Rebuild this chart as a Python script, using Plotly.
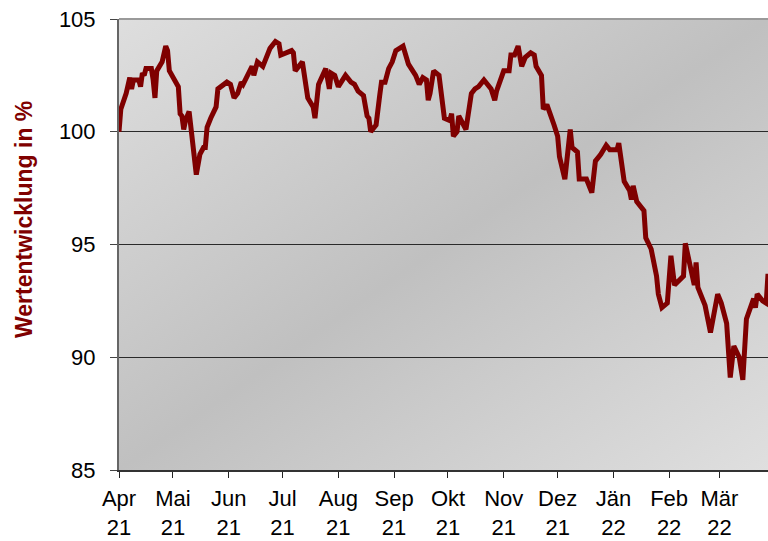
import base64
import plotly.graph_objects as go

# ---- data ----
dates = [
    "2021-04-01", "2021-04-02", "2021-04-05", "2021-04-07", "2021-04-08", "2021-04-09",
    "2021-04-12", "2021-04-13", "2021-04-14", "2021-04-15", "2021-04-16", "2021-04-19",
    "2021-04-20", "2021-04-21", "2021-04-22", "2021-04-25", "2021-04-27", "2021-04-28",
    "2021-04-29", "2021-05-02", "2021-05-04", "2021-05-05", "2021-05-06", "2021-05-07",
    "2021-05-08", "2021-05-10", "2021-05-11", "2021-05-12", "2021-05-14", "2021-05-16",
    "2021-05-18", "2021-05-19", "2021-05-20", "2021-05-22", "2021-05-25", "2021-05-26",
    "2021-05-29", "2021-05-31", "2021-06-02", "2021-06-04", "2021-06-06", "2021-06-08",
    "2021-06-09", "2021-06-11", "2021-06-14", "2021-06-15", "2021-06-17", "2021-06-20",
    "2021-06-22", "2021-06-24", "2021-06-27", "2021-06-29", "2021-06-30", "2021-07-06",
    "2021-07-07", "2021-07-08", "2021-07-10", "2021-07-12", "2021-07-15", "2021-07-18",
    "2021-07-19", "2021-07-21", "2021-07-25", "2021-07-27", "2021-07-28", "2021-07-30",
    "2021-08-01", "2021-08-05", "2021-08-08", "2021-08-10", "2021-08-12", "2021-08-15",
    "2021-08-17", "2021-08-18", "2021-08-19", "2021-08-22", "2021-08-24", "2021-08-25",
    "2021-08-27", "2021-08-29", "2021-08-31", "2021-09-02", "2021-09-06", "2021-09-09",
    "2021-09-13", "2021-09-15", "2021-09-17", "2021-09-19", "2021-09-20", "2021-09-21",
    "2021-09-23", "2021-09-26", "2021-09-29", "2021-10-02", "2021-10-03", "2021-10-04",
    "2021-10-06", "2021-10-07", "2021-10-11", "2021-10-14", "2021-10-16", "2021-10-18",
    "2021-10-21", "2021-10-25", "2021-10-27", "2021-10-28", "2021-11-01", "2021-11-04",
    "2021-11-05", "2021-11-07", "2021-11-09", "2021-11-11", "2021-11-13", "2021-11-16",
    "2021-11-18", "2021-11-19", "2021-11-22", "2021-11-23", "2021-11-25", "2021-11-28",
    "2021-11-29", "2021-12-01", "2021-12-02", "2021-12-05", "2021-12-08", "2021-12-09",
    "2021-12-12", "2021-12-13", "2021-12-16", "2021-12-17", "2021-12-20", "2021-12-22",
    "2021-12-25", "2021-12-28", "2021-12-30", "2022-01-03", "2022-01-04", "2022-01-07",
    "2022-01-10", "2022-01-11", "2022-01-12", "2022-01-14", "2022-01-18", "2022-01-19",
    "2022-01-22", "2022-01-25", "2022-01-26", "2022-01-28", "2022-01-31", "2022-02-02",
    "2022-02-04", "2022-02-09", "2022-02-10", "2022-02-15", "2022-02-16", "2022-02-17",
    "2022-02-21", "2022-02-24", "2022-02-28", "2022-03-02", "2022-03-05", "2022-03-07",
    "2022-03-09", "2022-03-12", "2022-03-14", "2022-03-16", "2022-03-20", "2022-03-21",
    "2022-03-22", "2022-03-25", "2022-03-27", "2022-03-28",
]
values = [
    100.0, 101.0, 101.7, 102.4, 101.9, 102.3,
    102.3, 102.0, 102.6, 102.5, 102.8, 102.8,
    102.3, 101.5, 102.7, 103.1, 103.8, 103.6,
    102.7, 102.3, 102.0, 100.8, 100.7, 100.1,
    100.5, 100.9, 100.1, 99.6, 98.1, 99.0,
    99.3, 99.3, 100.2, 100.6, 101.1, 101.9,
    102.1, 102.2, 102.1, 101.5, 101.7, 102.2,
    102.1, 102.4, 102.9, 102.5, 103.1, 102.9,
    103.3, 103.7, 104.0, 103.9, 103.4, 103.6,
    103.5, 102.7, 102.9, 103.1, 101.5, 101.1,
    100.6, 102.1, 102.8, 101.9, 102.6, 102.5,
    102.0, 102.5, 102.2, 102.1, 101.8, 101.6,
    100.7, 100.6, 100.0, 100.3, 101.6, 102.2,
    102.2, 102.8, 103.1, 103.6, 103.8, 103.0,
    102.5, 102.1, 102.4, 102.3, 101.4, 101.7,
    102.7, 102.5, 100.6, 100.5, 100.8, 99.8,
    100.0, 100.7, 100.1, 101.7, 101.9, 102.0,
    102.3, 101.9, 101.4, 101.8, 102.7, 102.7,
    103.4, 103.4, 103.8, 102.9, 103.3, 103.5,
    103.4, 102.9, 102.5, 101.0, 101.2, 100.4,
    100.3, 99.8, 98.9, 97.9, 100.1, 99.3,
    99.1, 97.9, 97.9, 97.9, 97.3, 98.7,
    99.0, 99.4, 99.2, 99.2, 99.5, 97.8,
    97.4, 97.0, 97.6, 96.9, 96.5, 95.3,
    94.8, 93.6, 92.8, 92.2, 92.4, 94.5,
    93.2, 93.6, 95.05, 93.2, 94.2, 93.1,
    92.3, 91.1, 92.8, 92.4, 91.5, 89.1,
    90.5, 90.0, 89.0, 91.7, 92.6, 92.2,
    92.8, 92.5, 92.4, 93.7,
]
tick_dates = [
    "2021-04-01", "2021-05-01", "2021-06-01", "2021-07-01", "2021-08-01", "2021-09-01",
    "2021-10-01", "2021-11-01", "2021-12-01", "2022-01-01", "2022-02-01", "2022-03-01",
]
tick_labels = [
    "Apr<br>21", "Mai<br>21", "Jun<br>21", "Jul<br>21", "Aug<br>21", "Sep<br>21",
    "Okt<br>21", "Nov<br>21", "Dez<br>21", "Jän<br>22", "Feb<br>22", "Mär<br>22",
]
y_ticks = [85, 90, 95, 100, 105]
x_range = ["2021-04-01", "2022-03-28"]
y_range = [85, 105]
y_title = "Wertentwicklung in %"

# ---- gradient background (SVG) ----
svg = (
    '<svg xmlns="http://www.w3.org/2000/svg" width="100" height="100" '
    'viewBox="0 0 100 100" preserveAspectRatio="none">'
    '<defs><linearGradient id="g" x1="0" y1="0" x2="1" y2="1">'
    '<stop offset="0" stop-color="#dedede"/>'
    '<stop offset="0.5" stop-color="#c0c0c0"/>'
    '<stop offset="1" stop-color="#dfdfdf"/>'
    '</linearGradient></defs>'
    '<rect x="0" y="0" width="100" height="100" fill="url(#g)"/></svg>'
)
svg_uri = "data:image/svg+xml;base64," + base64.b64encode(svg.encode()).decode()

FONT = "Liberation Sans, Arial, sans-serif"

fig = go.Figure()
fig.add_trace(go.Scatter(
    x=dates, y=values, mode="lines",
    line=dict(color="#7f0000", width=5, shape="linear"),
    hoverinfo="skip", showlegend=False,
))

fig.update_layout(
    width=768, height=541, autosize=False,
    margin=dict(l=119, r=0, t=19, b=71, autoexpand=False),
    paper_bgcolor="white",
    plot_bgcolor="rgba(0,0,0,0)",
    font=dict(family=FONT, size=22, color="black"),
    images=[dict(
        source=svg_uri, xref="paper", yref="paper", x=0, y=1,
        sizex=1, sizey=1, sizing="stretch", layer="below",
        xanchor="left", yanchor="top",
    )],
    xaxis=dict(
        type="date", range=x_range, automargin=False,
        tickmode="array", tickvals=tick_dates, ticktext=tick_labels,
        ticks="outside", ticklen=6, tickwidth=1, tickcolor="#222",
        showline=True, linecolor="#333", linewidth=2,
        showgrid=False, zeroline=False,
        tickfont=dict(size=22, family=FONT, color="black"),
        tickangle=0, ticklabelstandoff=2,
    ),
    yaxis=dict(
        range=y_range, tickmode="array", tickvals=y_ticks, automargin=False,
        ticks="outside", ticklen=7, tickwidth=1, tickcolor="#444",
        showline=True, linecolor="#666", linewidth=2,
        showgrid=True, gridcolor="#2a2a2a", gridwidth=1,
        zeroline=False,
        tickfont=dict(size=22, family=FONT, color="black"),
        ticklabelstandoff=10,
    ),
    shapes=[dict(
        type="line", xref="paper", yref="paper", x0=0, x1=1, y0=1, y1=1,
        line=dict(color="#9a9a9a", width=2), layer="above",
    )],
    annotations=[dict(
        text="<b>" + y_title + "</b>", xref="paper", yref="paper",
        x=(24 - 119) / 649, y=(470 - 220) / 451,
        xanchor="center", yanchor="middle", textangle=-90, showarrow=False,
        font=dict(family=FONT, size=23, color="#800000"),
    )],
)

fig.write_html(
    "out.html",
    config={"responsive": False, "displayModeBar": False},
    post_script="document.body.style.margin='0';document.body.style.overflow='hidden';",
)
